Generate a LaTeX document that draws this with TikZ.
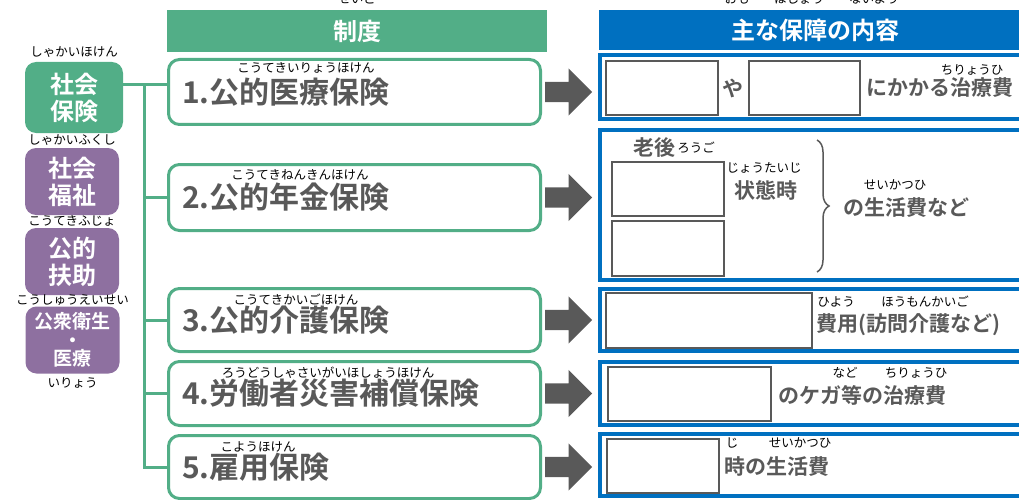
\documentclass[tikz,border=0pt]{standalone}
\usepackage{fontspec}
\setmainfont{Noto Sans CJK JP}[BoldFont={Noto Sans CJK JP Bold}]
\usepackage{tikz}
\usetikzlibrary{positioning,shapes.arrows,decorations.pathreplacing}

\definecolor{seidogreen}{RGB}{82,174,135}
\definecolor{fukushipurple}{RGB}{142,112,160}
\definecolor{naiyoblue}{RGB}{0,112,192}
\definecolor{textgray}{RGB}{89,89,89}

\begin{document}
\begin{tikzpicture}[x=1pt, y=-1pt, node distance=3pt,
	ruby/.style={inner sep=0pt, font=\fontsize{12.5}{12.5}\selectfont},
	midashi/.style={inner sep=0pt, text=textgray, font=\bfseries\fontsize{30}{30}\selectfont},
	setsumei/.style={inner sep=0pt, text=textgray, font=\bfseries\fontsize{21}{24}\selectfont},
	midashibar/.style={inner sep=0pt, text=white, font=\bfseries\fontsize{24}{24}\selectfont},
	kubun/.style={rounded corners=11pt, text=white, align=center, inner sep=0pt, minimum width=94pt, minimum height=67pt, font=\bfseries\fontsize{24}{27}\selectfont},
	seido/.style={draw=seidogreen, line width=3pt, rounded corners=11pt, fill=white, inner sep=0pt, minimum width=372pt},
	naiyo/.style={draw=naiyoblue, line width=4pt, inner sep=0pt, minimum width=430pt},
	kuuran/.style={draw=textgray, line width=1.3pt, fill=white, inner sep=0pt},
	yajirushi/.style={single arrow, fill=textgray, inner sep=0pt, text height=20pt, text depth=0pt, single arrow head extend=13.5pt, minimum width=47pt, minimum height=47pt},
	trunk/.style={draw=seidogreen, line width=3pt},
	branch/.style={to path={|- (\tikztotarget)}}]
	\useasboundingbox (0,0) rectangle (1019,500);
	\clip (0,0) rectangle (1019,500);

	% headers
	\node[midashibar, fill=seidogreen, minimum width=380pt, minimum height=42pt] (seido_h) at (357,31) {制度};
	\node[midashibar, fill=naiyoblue, minimum width=432pt, minimum height=40pt] (naiyo_h) at (815,30) {主な保障の内容};
	\node[ruby] (r_seido) at (357,-1) {せいど};
	\node[ruby] (r_omo) at (737,-1) {おも};
	\node[ruby] (r_hosho) at (799,-1) {ほしょう};
	\node[ruby] (r_naiyo) at (874,-1) {ないよう};

	% left column
	\node[kubun, fill=seidogreen, minimum width=98pt, minimum height=71pt] (hoken) at (74,97.5) {社会\\保険};
	\node[kubun, fill=fukushipurple] (fukushi) at (72,181.5) {社会\\福祉};
	\node[kubun, fill=fukushipurple] (fujo) at (72,261.5) {公的\\扶助};
	\node[kubun, fill=fukushipurple, font=\bfseries\fontsize{19}{18.5}\selectfont] (eisei) at (72.5,340) {公衆衛生\\・\\医療};
	\node[ruby, above=4pt of hoken] (r_hoken) {しゃかいほけん};
	\node[ruby, above=2pt of fukushi] (r_fukushi) {しゃかいふくし};
	\node[ruby, above=1pt of fujo] (r_fujo) {こうてきふじょ};
	\node[ruby, above=1pt of eisei] (r_eisei) {こうしゅうえいせい};
	\node[ruby, below=4pt of eisei] (r_iryo) {いりょう};

	% seido
	\node[seido, minimum height=65pt] (seido_1) at (354.5,92) {};
	\node[seido, minimum height=66pt] (seido_2) at (354.5,197.5) {};
	\node[seido, minimum height=63pt] (seido_3) at (354.5,320) {};
	\node[seido, minimum height=64pt] (seido_4) at (354.5,393.5) {};
	\node[seido, minimum height=63pt] (seido_5) at (354.5,467) {};
	\node[midashi, right=15pt of seido_1.west] (m_1) {1.公的医療保険};
	\node[midashi, right=15pt of seido_2.west] (m_2) {2.公的年金保険};
	\node[midashi, right=15pt of seido_3.west] (m_3) {3.公的介護保険};
	\node[midashi, right=15pt of seido_4.west] (m_4) {4.労働者災害補償保険};
	\node[midashi, right=15pt of seido_5.west] (m_5) {5.雇用保険};
	\node[ruby] (r_1) at (306,68) {こうてきいりょうほけん};
	\node[ruby] (r_2) at (300,175) {こうてきねんきんほけん};
	\node[ruby] (r_3) at (296,300) {こうてきかいごほけん};
	\node[ruby] (r_4) at (328,373) {ろうどうしゃさいがいほしょうほけん};
	\node[ruby] (r_5) at (258,447) {こようほけん};

	\coordinate (split) at (144,85);
	\path[trunk]
	(hoken.east |- split) edge (seido_1.west |- split)
	(split) edge[branch] (seido_2.west)
	(split) edge[branch] (seido_3.west)
	(split) edge[branch] (seido_4.west)
	(split) edge[branch] (seido_5.west)
	;

	% arrows
	\node[yajirushi, right=3pt of seido_1] (ya_1) {};
	\node[yajirushi, right=3pt of seido_2] (ya_2) {};
	\node[yajirushi, right=3pt of seido_3] (ya_3) {};
	\node[yajirushi, right=3pt of seido_4] (ya_4) {};
	\node[yajirushi, right=3pt of seido_5] (ya_5) {};

	% naiyo
	\node[naiyo, minimum height=64pt] (naiyo_1) at (815,87) {};
	\node[naiyo, minimum height=150pt] (naiyo_2) at (815,205) {};
	\node[naiyo, minimum height=62pt] (naiyo_3) at (815,320) {};
	\node[naiyo, minimum height=63pt] (naiyo_4) at (815,393.5) {};
	\node[naiyo, minimum height=62pt] (naiyo_5) at (815,465) {};

	% 1
	\node[kuuran, minimum width=112pt, minimum height=54pt] (ran_1a) at (662,88) {};
	\node[setsumei, right=4pt of ran_1a] (ya) {や};
	\node[kuuran, minimum width=111pt, minimum height=54pt] (ran_1b) at (804.5,88) {};
	\node[setsumei, right=6pt of ran_1b] (s_1) {にかかる治療費};
	\node[ruby] (r_s1) at (972,70) {ちりょうひ};
	% 2
	\node[setsumei] (rogo) at (654,148) {老後};
	\node[ruby, right=2pt of rogo] (r_rogo) {ろうご};
	\node[kuuran, minimum width=112pt, minimum height=54pt] (ran_2a) at (668,189) {};
	\node[kuuran, minimum width=112pt, minimum height=55pt] (ran_2b) at (668,248.5) {};
	\node[ruby] (r_jotai) at (764,168) {じょうたいじ};
	\node[setsumei] (jotai) at (766,190) {状態時};
	\draw[decorate, decoration={brace, amplitude=12pt}, draw=textgray, line width=1.5pt] (817,140) -- (817,272);
	\node[ruby] (r_s2) at (895,185) {せいかつひ};
	\node[setsumei, anchor=west] (s_2) at (843,208) {の生活費など};
	% 3
	\node[kuuran, minimum width=206pt, minimum height=55pt] (ran_3) at (709,320.5) {};
	\node[ruby] (r_hiyo) at (836,302) {ひよう};
	\node[ruby] (r_homon) at (925,302) {ほうもんかいご};
	\node[setsumei, anchor=west] (s_3) at (816,325) {費用(訪問介護など)};
	% 4
	\node[kuuran, minimum width=163pt, minimum height=54pt] (ran_4) at (689.5,394) {};
	\node[ruby] (r_nado) at (845,373) {など};
	\node[ruby] (r_s4) at (916,373) {ちりょうひ};
	\node[setsumei, anchor=west] (s_4) at (778,395) {のケガ等の治療費};
	% 5
	\node[kuuran, minimum width=112pt, minimum height=54pt] (ran_5) at (663,466) {};
	\node[ruby] (r_ji) at (732,443) {じ};
	\node[ruby] (r_s5) at (800,443) {せいかつひ};
	\node[setsumei, anchor=west] (s_5) at (724,467) {時の生活費};
\end{tikzpicture}
\end{document}
